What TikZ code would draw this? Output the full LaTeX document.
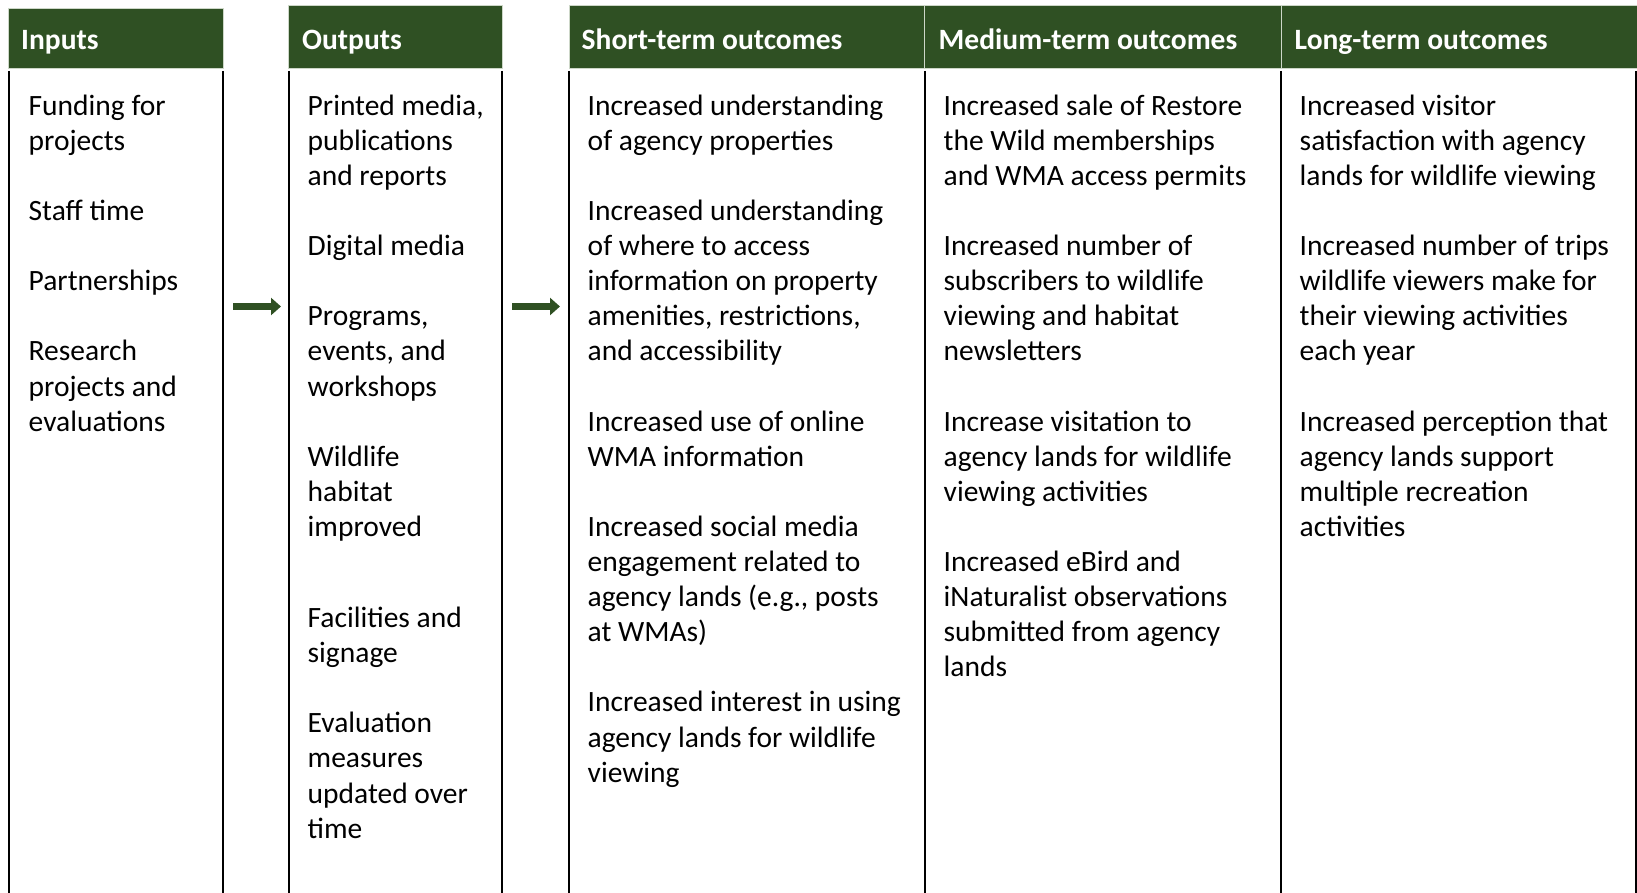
\documentclass[tikz,border=0pt]{standalone}
\usepackage{fontspec}
\setmainfont{Carlito}
\usetikzlibrary{arrows.meta}
\definecolor{hdr}{RGB}{47,80,35}
\definecolor{hdredge}{RGB}{205,215,200}
\begin{document}
\begin{tikzpicture}[x=1pt,y=-1pt,
  hdrbox/.style={fill=hdr,draw=hdredge,line width=1pt},
  hdrtext/.style={anchor=base west,inner sep=0pt,text=white,font=\fontsize{29.5}{35.1}\selectfont\bfseries},
  body/.style={anchor=north west,inner sep=0pt,align=left,font=\fontsize{29.5}{35.1}\selectfont},
  colline/.style={line width=2pt,black},
  flow/.style={draw=hdr,line width=7pt,-{Triangle[length=10pt,width=17pt]}}]
\useasboundingbox (0,0) rectangle (1637,893);
% header boxes
\draw[hdrbox] (8.5,9) rectangle (223,69);
\draw[hdrbox] (288.5,6) rectangle (502,69);
\draw[hdrbox] (569,6) rectangle (924.5,69);
\draw[hdrbox] (924.5,6) rectangle (1281,69);
\draw[hdrbox] (1281,6) rectangle (1637,69);
% header texts
\node[hdrtext] (hin) at (21,50) {Inputs};
\node[hdrtext] (hout) at (302,50) {Outputs};
\node[hdrtext] (hst) at (581.5,50) {Short-term outcomes};
\node[hdrtext] (hmt) at (938.5,50) {Medium-term outcomes};
\node[hdrtext] (hlt) at (1294.5,50) {Long-term outcomes};
% column lines
\foreach \x in {8.7,222.7,288.5,502,569,924.5,1280.5,1635.5}
  \draw[colline] (\x,71) -- (\x,893);
% body texts
\node[body] (bin) at (28.5,90) {\rule{0pt}{25pt}Funding for\\ projects\\[35.1pt]
Staff time\\[35.1pt]
Partnerships\\[35.1pt]
Research\\ projects and\\ evaluations};
\node[body] (bout) at (307.5,90) {\rule{0pt}{25pt}Printed media,\\ publications\\ and reports\\[35.1pt]
Digital media\\[35.1pt]
Programs,\\ events, and\\ workshops\\[35.1pt]
Wildlife\\ habitat\\ improved\\[56pt]
Facilities and\\ signage\\[35.1pt]
Evaluation\\ measures\\ updated over\\ time};
\node[body] (bst) at (587.5,90) {\rule{0pt}{25pt}Increased understanding\\ of agency properties\\[35.1pt]
Increased understanding\\ of where to access\\ information on property\\ amenities, restrictions,\\ and accessibility\\[35.1pt]
Increased use of online\\ WMA information\\[35.1pt]
Increased social media\\ engagement related to\\ agency lands (e.g., posts\\ at WMAs)\\[35.1pt]
Increased interest in using\\ agency lands for wildlife\\ viewing};
\node[body] (bmt) at (943.5,90) {\rule{0pt}{25pt}Increased sale of Restore\\ the Wild memberships\\ and WMA access permits\\[35.1pt]
Increased number of\\ subscribers to wildlife\\ viewing and habitat\\ newsletters\\[35.1pt]
Increase visitation to\\ agency lands for wildlife\\ viewing activities\\[35.1pt]
Increased eBird and\\ iNaturalist observations\\ submitted from agency\\ lands};
\node[body] (blt) at (1299.5,90) {\rule{0pt}{25pt}Increased visitor\\ satisfaction with agency\\ lands for wildlife viewing\\[35.1pt]
Increased number of trips\\ wildlife viewers make for\\ their viewing activities\\ each year\\[35.1pt]
Increased perception that\\ agency lands support\\ multiple recreation\\ activities};
% arrows
\coordinate (a1s) at (233,306.5);
\coordinate (a1e) at (281,306.5);
\coordinate (a2s) at (512,306.5);
\coordinate (a2e) at (560,306.5);
\draw[flow] (a1s) -- (a1e);
\draw[flow] (a2s) -- (a2e);
\end{tikzpicture}
\end{document}
